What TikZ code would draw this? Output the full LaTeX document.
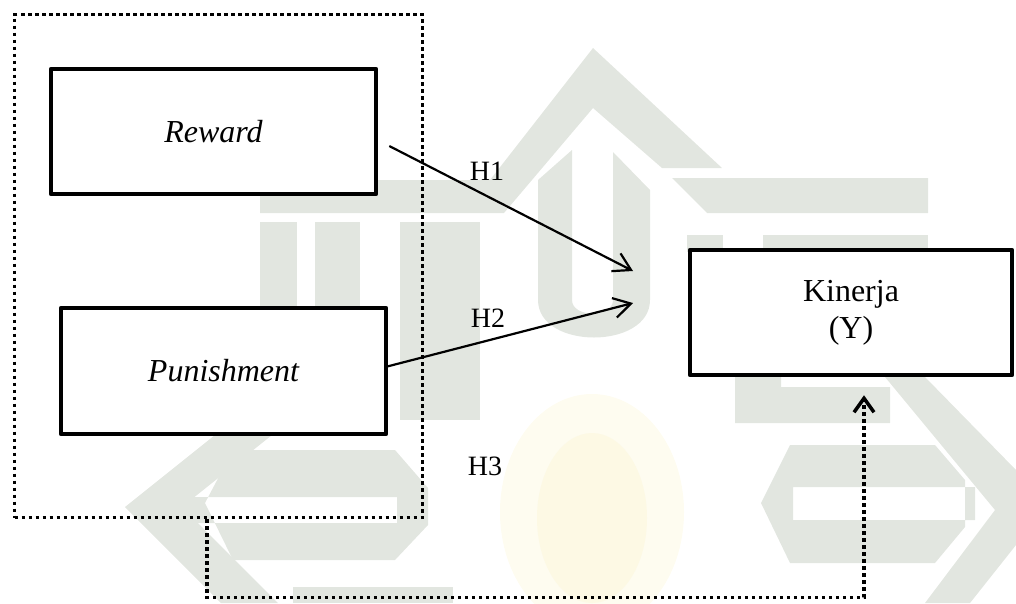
\documentclass[tikz,border=0pt]{standalone}
\usepackage{fontspec}
\setmainfont{Liberation Serif}
\usetikzlibrary{arrows.meta,calc}
\definecolor{wm}{HTML}{E2E6E0}
\definecolor{wmy}{HTML}{FEFCF0}
\definecolor{wmy2}{HTML}{FDF9E4}
\begin{document}
\begin{tikzpicture}[x=1pt,y=-1pt,
  varbox/.style={draw, line width=4.5pt, line join=round, fill=white, inner sep=0pt,
    font=\fontsize{32}{37}\selectfont},
  hlabel/.style={inner sep=0pt, font=\fontsize{28}{32}\selectfont},
  link/.style={line width=2.2pt, -{Straight Barb[length=17pt,width=20pt]}},
  dotline/.style={line width=3.5pt, dash pattern=on 3.5pt off 3.5pt},
]
\useasboundingbox (0,0) rectangle (1016,603);

% faint emblem in the background
\fill[wmy] (592,512) ellipse [x radius=92, y radius=118];
\fill[wmy2] (592,518) ellipse [x radius=55, y radius=85];
% roof and eaves
\fill[wm] (260,180) -- (490,180) -- (593,48) -- (722,168) -- (662,168) -- (593,108)
  -- (504,213) -- (260,213) -- cycle;
\fill[wm] (672,178) -- (928,178) -- (928,213) -- (707,213) -- cycle;
\fill[wm] (687,235) rectangle (723,252);
\fill[wm] (763,235) rectangle (928,252);
% columns under the roof
\fill[wm] (260,222) rectangle (297,420);
\fill[wm] (315,222) rectangle (360,420);
\fill[wm] (400,222) -- (480,222) -- (480,420) -- (400,420) -- cycle;
\fill[wm] (538,180) -- (572,150) -- (572,300) .. controls (572,318) and (613,318) .. (613,300)
  -- (613,152) -- (650,190) -- (650,300) .. controls (650,350) and (538,350) .. (538,300) -- cycle;
\fill[wm] (735,252) -- (781,252) -- (781,387) -- (890,387) -- (890,423) -- (735,423) -- cycle;
% left chevron and hook
\fill[wm] (125,507) -- (265,395) -- (322,395) -- (182,507) -- (278,603) -- (221,603) -- cycle;
\fill[wm,even odd rule] (205,503) -- (233,450) -- (395,450) -- (428,488) -- (428,525)
  -- (395,560) -- (233,560) -- cycle (170,497) rectangle (397,523);
\fill[wm] (293,587) rectangle (453,603);
% right chevron and hook
\fill[wm] (885,377) -- (925,377) -- (1016,470) -- (1016,545) -- (970,603) -- (925,603)
  -- (995,510) -- cycle;
\fill[wm,even odd rule] (761,503) -- (790,445) -- (935,445) -- (965,480) -- (965,527)
  -- (935,563) -- (790,563) -- cycle (793,487) rectangle (975,520);

% grouping frame around the independent variables
\node[draw, dotline, minimum width=408pt, minimum height=503pt, inner sep=0pt] (grp)
  at (218.5,266) {};

% variables
\node[varbox, minimum width=325pt, minimum height=125pt] (rew) at (213.5,131.5) {\itshape Reward};
\node[varbox, minimum width=325pt, minimum height=126pt] (pun) at (223.5,371) {\itshape Punishment};
\node[varbox, minimum width=322pt, minimum height=125pt, align=center] (kin) at (851,312.5)
  {Kinerja\\(Y)};

% hypothesis paths
\coordinate (t1) at (633,271);
\coordinate (t2) at (633,303);
\draw[link] ($(rew.east)+(11,14.5)$) -- (t1);
\draw[link] ($(pun.east)+(-3,-4)$) -- (t2);

\coordinate (h3a) at ($(grp.south)+(-11.5,0)$);
\coordinate (h3b) at ($(kin.south)+(13,18)$);
\coordinate (low) at (0,597.5);
\draw[dotline, -{Straight Barb[length=14pt,width=20pt]}]
  (h3a) -- (h3a |- low) -- (h3b |- low) -- (h3b);

\node[hlabel] (h1) at (487,171) {H1};
\node[hlabel] (h2) at (488,318) {H2};
\node[hlabel] (h3) at (485,466) {H3};
\end{tikzpicture}
\end{document}
